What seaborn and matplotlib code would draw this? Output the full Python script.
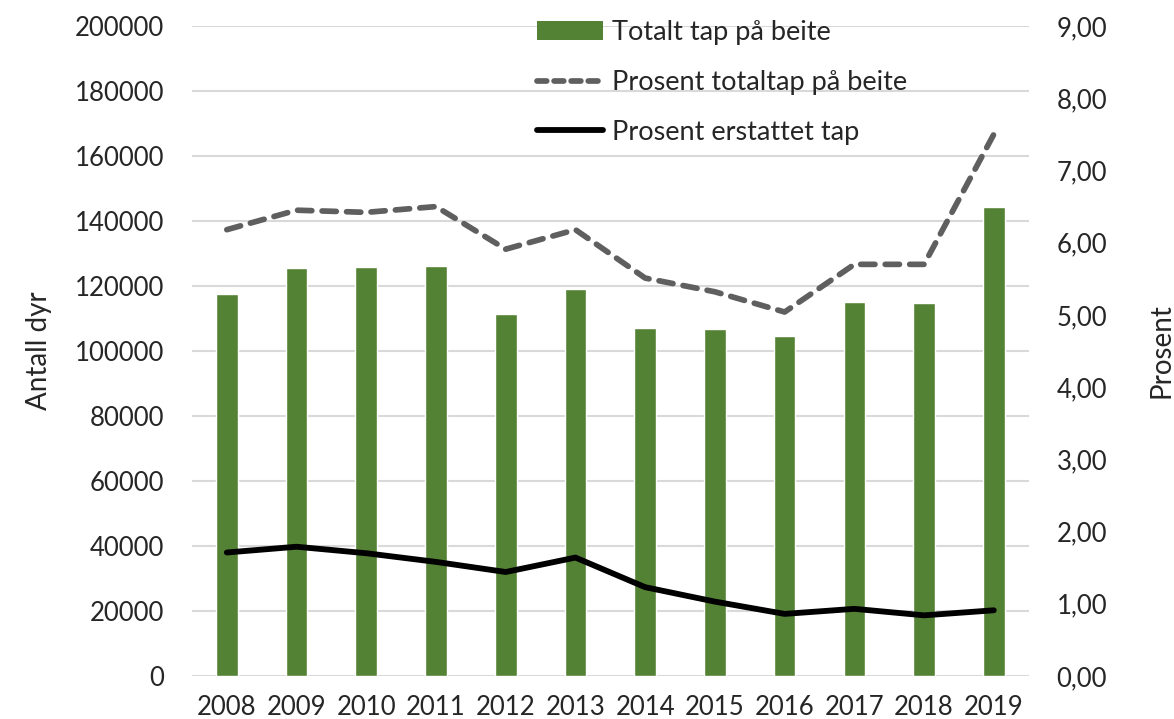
import numpy as np
import pandas as pd
import seaborn as sns
import matplotlib.pyplot as plt
from matplotlib.patches import Patch
from matplotlib.lines import Line2D

years = ["2008", "2009", "2010", "2011", "2012", "2013",
         "2014", "2015", "2016", "2017", "2018", "2019"]
totalt_tap = [117500, 125400, 125800, 126200, 111400, 119100,
              107100, 106700, 104700, 115000, 114800, 144400]
prosent_totaltap = [6.18, 6.45, 6.42, 6.50, 5.91, 6.18,
                    5.51, 5.32, 5.04, 5.70, 5.70, 7.50]
prosent_erstattet = [1.71, 1.79, 1.70, 1.58, 1.44, 1.64,
                     1.23, 1.03, 0.86, 0.93, 0.84, 0.91]

sns.set_style("white")
plt.rcParams["font.family"] = ["Lato", "DejaVu Sans"]

df = pd.DataFrame({"year": years, "tap": totalt_tap,
                   "pct_tot": prosent_totaltap, "pct_erst": prosent_erstattet})
df["pos"] = np.arange(len(df))

green = "#548235"
dash_col = "#5f5f5f"
fs = 18.5
lw = 3.9

fig = plt.figure(figsize=(11.74, 7.19), dpi=100)
ax = fig.add_axes([0.1635, 0.0598, 0.8762 - 0.1635, 0.9638 - 0.0598])

sns.barplot(data=df, x="year", y="tap", color=green, width=0.31,
            saturation=1, ax=ax, zorder=2)
ax.set_ylim(0, 200000)
ax.set_yticks(np.arange(0, 200001, 20000))
ax.set_xlim(-0.5, len(years) - 0.5)
ax.yaxis.grid(True, color="#d9d9d9", linewidth=1.5, zorder=0)
ax.set_axisbelow(True)
ax.set_xlabel("")
ax.set_ylabel("Antall dyr", fontsize=20, labelpad=16)
ax.tick_params(axis="y", labelsize=fs, length=0, pad=20)
ax.tick_params(axis="x", labelsize=fs, length=0, pad=14)
ax.yaxis.set_major_formatter(plt.FuncFormatter(lambda v, p: f"{int(v)}"))
sns.despine(ax=ax, left=True, bottom=True, right=True, top=True)

ax2 = ax.twinx()
sns.lineplot(data=df, x="pos", y="pct_tot", color=dash_col, linewidth=lw + 0.2,
             ax=ax2)
ax2.lines[-1].set_linestyle((0, (2.5, 1.8)))
ax2.lines[-1].set_dash_capstyle("round")
sns.lineplot(data=df, x="pos", y="pct_erst", color="black", linewidth=lw + 0.3, ax=ax2)
ax2.lines[-1].set_solid_capstyle("round")
ax2.set_ylim(0, 9)
ax2.set_yticks(np.arange(0, 9.01, 1))
ax2.yaxis.set_major_formatter(plt.FuncFormatter(lambda v, p: f"{v:.2f}".replace(".", ",")))
ax2.tick_params(axis="y", labelsize=fs, length=0, pad=20)
ax2.set_ylabel("Prosent", fontsize=20, labelpad=30)
ax2.set_xlim(-0.5, len(years) - 0.5)
ax2.set_xlabel("")
for s in ax2.spines.values():
    s.set_visible(False)

handles = [
    Patch(facecolor=green, edgecolor="none"),
    Line2D([], [], color=dash_col, linewidth=lw + 0.2, linestyle=(0, (1.7, 1.3)),
           dash_capstyle="round"),
    Line2D([], [], color="black", linewidth=lw + 0.3, solid_capstyle="round"),
]
labels = ["Totalt tap på beite", "Prosent totaltap på beite", "Prosent erstattet tap"]
fig.legend(handles, labels, loc="upper left", bbox_to_anchor=(0.457, 0.972),
           frameon=False, fontsize=19.5, handlelength=2.45, handletextpad=0.35,
           labelspacing=0.92, borderpad=0, borderaxespad=0)

fig.savefig("out.png", dpi=100)
